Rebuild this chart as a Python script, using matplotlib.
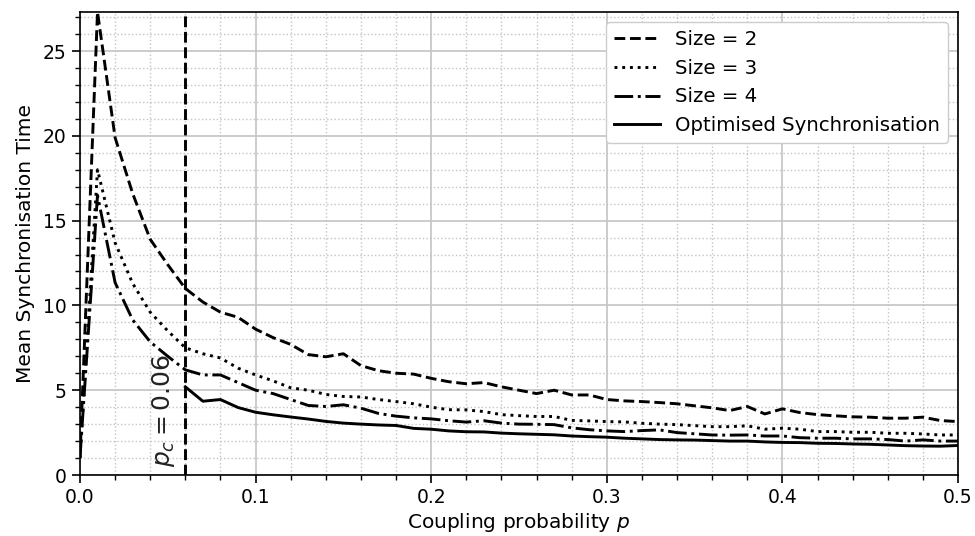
import numpy as np
import matplotlib
matplotlib.use("Agg")
import matplotlib.pyplot as plt
from matplotlib.ticker import MultipleLocator

p = np.round(np.arange(0, 0.501, 0.01), 2)

size2 = [1.0, 27.3, 19.9, 16.6, 13.9, 12.4, 11.0, 10.2, 9.6, 9.3, 8.6,
         8.1, 7.7, 7.1, 6.97, 7.15, 6.45, 6.15, 6.0, 5.95, 5.7,
         5.5, 5.38, 5.45, 5.2, 5.0, 4.8, 5.0, 4.72, 4.72, 4.45,
         4.37, 4.33, 4.27, 4.2, 4.08, 3.96, 3.8, 4.04, 3.6, 3.9,
         3.68, 3.56, 3.49, 3.43, 3.41, 3.35, 3.35, 3.41, 3.21, 3.15]

size3 = [1.0, 18.0, 13.7, 11.3, 9.6, 8.5, 7.5, 7.15, 6.9, 6.3, 5.9,
         5.55, 5.14, 5.0, 4.75, 4.63, 4.6, 4.45, 4.33, 4.2, 4.0,
         3.85, 3.84, 3.74, 3.56, 3.5, 3.45, 3.45, 3.22, 3.19, 3.15,
         3.13, 3.05, 3.0, 2.97, 2.91, 2.85, 2.85, 2.9, 2.7, 2.76,
         2.7, 2.56, 2.56, 2.52, 2.52, 2.46, 2.46, 2.42, 2.36, 2.36]

size4 = [1.0, 16.5, 11.35, 9.15, 7.85, 7.0, 6.2, 5.9, 5.9, 5.45, 5.0,
         4.8, 4.45, 4.1, 4.04, 4.14, 3.94, 3.63, 3.47, 3.37, 3.31,
         3.2, 3.12, 3.2, 3.06, 3.0, 2.99, 2.97, 2.78, 2.67, 2.6,
         2.56, 2.62, 2.66, 2.5, 2.43, 2.36, 2.35, 2.36, 2.3, 2.3,
         2.2, 2.17, 2.17, 2.13, 2.13, 2.09, 2.0, 2.07, 2.0, 2.0]

p_opt = p[6:]
optimised = [5.2, 4.35, 4.45, 3.98, 3.7,
             3.55, 3.42, 3.3, 3.16, 3.06, 3.0, 2.95, 2.92, 2.75, 2.7,
             2.6, 2.55, 2.54, 2.47, 2.43, 2.4, 2.37, 2.3, 2.26, 2.23,
             2.17, 2.13, 2.09, 2.07, 2.06, 2.03, 2.0, 2.0, 1.95, 1.92,
             1.91, 1.87, 1.86, 1.83, 1.81, 1.77, 1.73, 1.71, 1.7, 1.74]

p_c = 0.06

fig = plt.figure(figsize=(9.75, 5.36), dpi=100)
ax = fig.add_axes([0.082, 0.1138, 0.9006, 0.8638])

ax.plot(p, size2, ls='--', color='k', lw=2.1, label='Size = 2')
ax.plot(p, size3, ls=':', color='k', lw=2.1, label='Size = 3')
ax.plot(p, size4, ls='-.', color='k', lw=2.1, label='Size = 4')
ax.plot(p_opt, optimised, ls='-', color='k', lw=2.1, label='Optimised Synchronisation')
ax.axvline(p_c, ls='--', color='k', lw=2.1)
ax.text(0.0473, 0.45, r'$p_c = 0.06$', rotation=90, fontsize=18,
        ha='center', va='bottom', color='#222222')

ax.set_xlim(0, 0.5)
ax.set_ylim(0, 27.3)
ax.xaxis.set_minor_locator(MultipleLocator(0.02))
ax.yaxis.set_major_locator(MultipleLocator(5))
ax.yaxis.set_minor_locator(MultipleLocator(1))
ax.set_xticks([0, 0.1, 0.2, 0.3, 0.4, 0.5])
ax.set_xticklabels(['0.0', '0.1', '0.2', '0.3', '0.4', '0.5'])
ax.grid(which='major', color='#c4c4c4', lw=1.2, ls='-')
ax.grid(which='minor', color='#c4c4c4', lw=1.0, ls=':')
ax.set_axisbelow(True)
ax.tick_params(which='major', labelsize=13.5, length=6, width=1.2)
ax.tick_params(which='minor', length=3.5, width=1)
for s in ax.spines.values():
    s.set_linewidth(1.2)

ax.set_xlabel('Coupling probability $p$', fontsize=14.5, labelpad=3)
ax.set_ylabel('Mean Synchronisation Time', fontsize=14.5, labelpad=6)
ax.legend(loc='upper right', fontsize=14.2, handlelength=2.3, framealpha=1)

fig.savefig('out.png', dpi=100)
